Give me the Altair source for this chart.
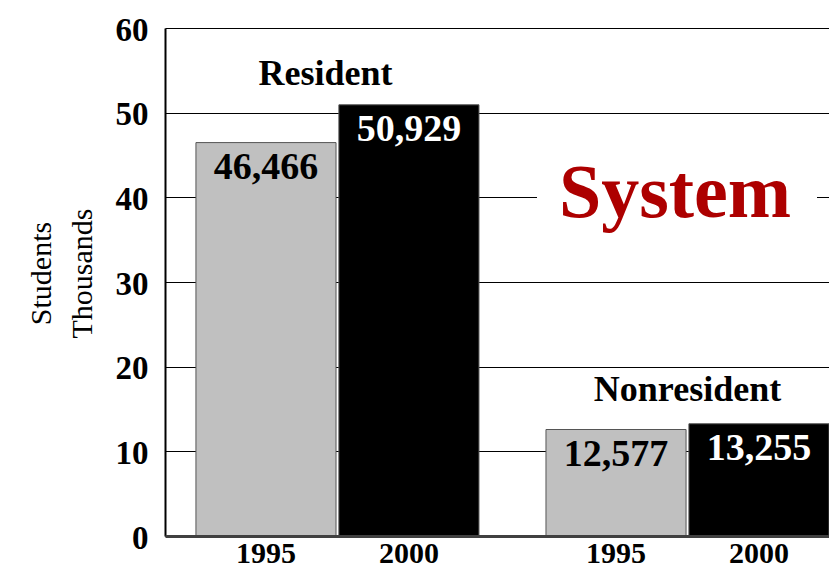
import altair as alt
import pandas as pd

# ---- data ----
groups = ["Resident", "Resident", "Nonresident", "Nonresident"]
years = ["1995", "2000", "1995", "2000"]
students = [46466, 50929, 12577, 13255]
group_order = ["Resident", "Nonresident"]
year_order = ["1995", "2000"]
bar_colors = ["#C0C0C0", "#000000"]
label_colors = ["#000000", "#FFFFFF"]
y_ticks = [0, 10, 20, 30, 40, 50, 60]
y_title = ["Students", "Thousands"]
annotation = ["System"]

df = pd.DataFrame({"group": groups, "year": years, "students": students})
ann_df = pd.DataFrame({"label": annotation})

FONT = "Liberation Serif"

x_enc = alt.X(
    "group:N",
    sort=group_order,
    scale=alt.Scale(domain=group_order, paddingInner=0.19143, paddingOuter=0.0442, align=1),
    axis=alt.Axis(labels=False, ticks=False, title=None, domainColor="#404040",
                  domainWidth=3, grid=False, zindex=1),
)
xo_enc = alt.XOffset(
    "year:N", sort=year_order,
    scale=alt.Scale(domain=year_order, paddingInner=0.02, paddingOuter=0),
)
y_scale = alt.Scale(domain=[0, 60], nice=False)
y_axis = alt.Axis(
    values=y_ticks, title=y_title, grid=True, gridColor="#000000", gridWidth=1,
    domainColor="#000000", domainWidth=2, ticks=False, tickSize=0,
    labelFont=FONT, labelFontSize=33, labelFontWeight="bold", labelColor="#000000",
    labelPadding=17, labelOffset=2,
    titleFont=FONT, titleFontSize=30, titleFontWeight="normal", titleColor="#000000",
    titleAngle=270, titleAlign="center", titleBaseline="alphabetic",
    titleLineHeight=41, titleX=-115, titleY=245,
)

base = alt.Chart(df).transform_calculate(value="datum.students / 1000")

bars = base.mark_bar(stroke="#555555", strokeWidth=1).encode(
    x=x_enc, xOffset=xo_enc,
    y=alt.Y("value:Q", scale=y_scale, axis=y_axis),
    color=alt.Color("year:N", scale=alt.Scale(domain=year_order, range=bar_colors), legend=None),
)

bar_labels = base.mark_text(
    font=FONT, fontSize=38, fontWeight="bold", baseline="alphabetic", align="center", dy=36
).encode(
    x=x_enc, xOffset=xo_enc,
    y=alt.Y("value:Q", scale=y_scale, axis=y_axis),
    text=alt.Text("students:Q", format=","),
    color=alt.Color("year:N", scale=alt.Scale(domain=year_order, range=label_colors), legend=None),
)

year_labels = base.mark_text(
    font=FONT, fontSize=30, fontWeight="bold", baseline="alphabetic", align="center",
    dy=27, color="#000000"
).encode(
    x=x_enc, xOffset=xo_enc,
    y=alt.datum(0),
    text="year:N",
)

grp = base.transform_aggregate(maxv="max(value)", groupby=["group"])
res_label = grp.transform_filter(alt.datum.group == "Resident").mark_text(
    font=FONT, fontSize=36, fontWeight="bold", baseline="alphabetic", align="center",
    dy=-20, dx=-12, color="#000000"
).encode(x=x_enc, y=alt.Y("maxv:Q", scale=y_scale, axis=y_axis), text="group:N")
non_label = grp.transform_filter(alt.datum.group == "Nonresident").mark_text(
    font=FONT, fontSize=36, fontWeight="bold", baseline="alphabetic", align="center",
    dy=-23, color="#000000"
).encode(x=x_enc, y=alt.Y("maxv:Q", scale=y_scale, axis=y_axis), text="group:N")

ann_box = alt.Chart(ann_df).mark_rect(color="#FFFFFF").encode(
    x=alt.value(372), x2=alt.value(652), y=alt.value(150), y2=alt.value(190)
)
ann_text = alt.Chart(ann_df).mark_text(
    font=FONT, fontSize=76, fontWeight="bold", color="#AD0000",
    baseline="alphabetic", align="center"
).encode(x=alt.value(510), y=alt.value(189), text="label:N")

chart = (
    alt.layer(bars, bar_labels, year_labels, res_label, non_label, ann_box, ann_text)
    .resolve_scale(color="independent")
    .properties(
        width=664, height=508,
        autosize=alt.AutoSizeParams(type="none"),
        padding={"left": 157, "top": 20, "right": 0, "bottom": 34},
        background="#FFFFFF",
    )
    .configure_view(stroke=None)
)

chart.save("out.html", embed_options={"renderer": "svg", "actions": False})
